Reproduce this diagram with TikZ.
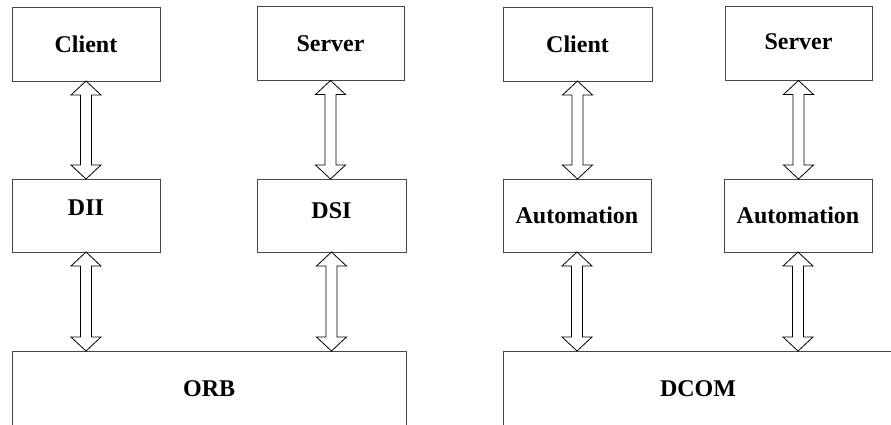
\documentclass[tikz,border=0pt]{standalone}
\usepackage{fontspec}
\setmainfont{Liberation Serif}
\usetikzlibrary{calc}
\newcommand\dblarrow[2]{%
  \draw[dbl] (#1.south) -- ++(-15,14) -- ++(9.5,0)
    -- ($(#1.south |- #2.north)+(-5.5,-14)$) -- ++(-9.5,0)
    -- (#1.south |- #2.north) -- ++(15,-14) -- ++(-9.5,0)
    -- ($(#1.south)+(5.5,14)$) -- ++(9.5,0) -- cycle;}
\begin{document}
\begin{tikzpicture}[x=1pt,y=-1pt,
  box/.style={draw=black!72,line width=1pt,rectangle,inner sep=0pt,outer sep=0pt,
    font=\fontsize{24}{28}\selectfont\bfseries},
  small/.style={box,minimum width=148pt,minimum height=74pt},
  dbl/.style={draw=black,line width=0.8pt,line join=miter,fill=white}]
\useasboundingbox (0,0) rectangle (891,424);
\clip (0,0) rectangle (891,424);
% left (CORBA)
\node[small] (c1) at (86,44) {Client};
\node[small,minimum width=147pt] (s1) at (330.5,43.5) {Server};
\node[small,minimum height=73pt] (dii) at (86,215.5) {\raisebox{8pt}[\height][\depth]{DII}};
\node[small,minimum width=149pt,minimum height=73pt] (dsi) at (331.5,215.5) {\raisebox{5pt}[\height][\depth]{DSI}};
\node[box,minimum width=393.5pt,minimum height=75pt] (orb) at (209.25,388.5) {ORB};
% right (DCOM)
\node[small,minimum width=149pt] (c2) at (577.5,44) {Client};
\node[small,minimum width=147pt] (s2) at (798.5,43.5) {\raisebox{2pt}[\height][\depth]{Server}};
\node[small,minimum height=73pt] (a1) at (577,215.5) {Automation};
\node[small,minimum height=73pt] (a2) at (798,215.5) {Automation};
\node[box,minimum width=390pt,minimum height=75pt] (dcom) at (698,388.5) {DCOM};
% arrows
\dblarrow{c1}{dii}
\dblarrow{s1}{dsi}
\dblarrow{dii}{orb}
\dblarrow{dsi}{orb}
\dblarrow{c2}{a1}
\dblarrow{s2}{a2}
\dblarrow{a1}{dcom}
\dblarrow{a2}{dcom}
\end{tikzpicture}
\end{document}
